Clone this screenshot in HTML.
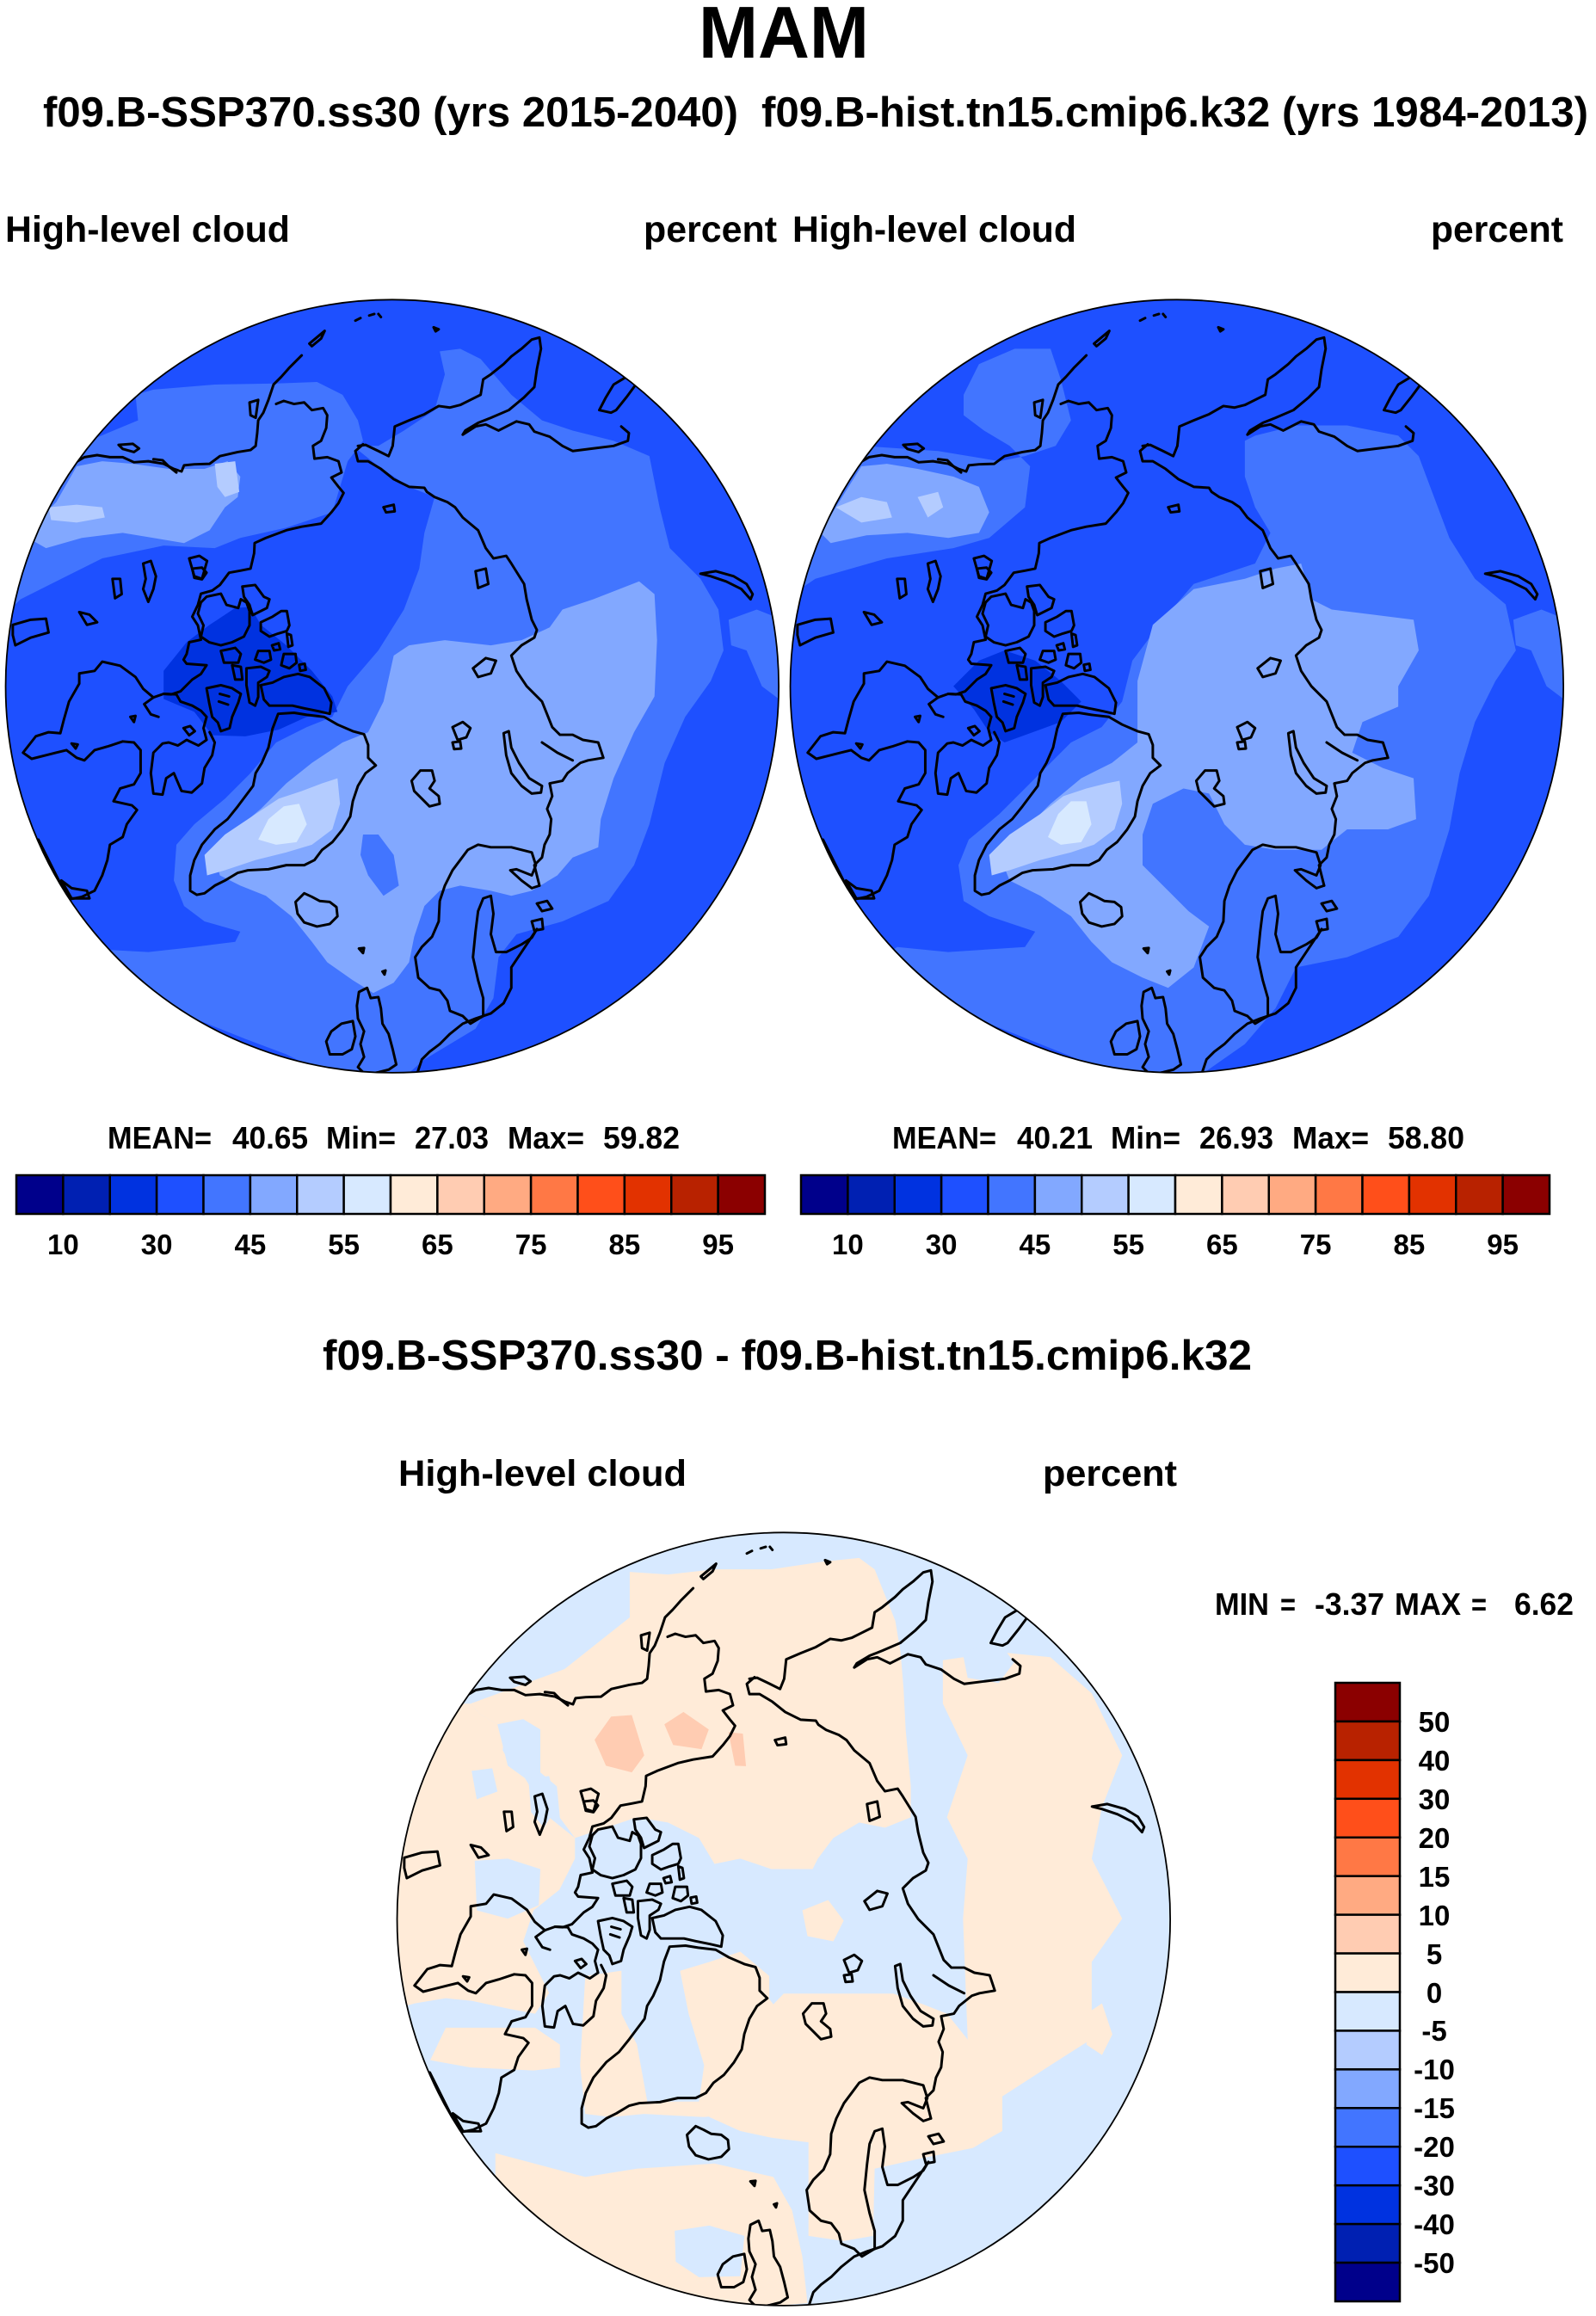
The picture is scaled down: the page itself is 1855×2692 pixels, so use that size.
<!DOCTYPE html>
<html><head><meta charset="utf-8"><style>
html,body{margin:0;padding:0;background:#fff;}
svg{display:block;}
text{font-family:"Liberation Sans",Arial,sans-serif;font-weight:bold;fill:#000;}
</style></head><body>
<svg width="1855" height="2692" viewBox="0 0 1855 2692" xmlns="http://www.w3.org/2000/svg">
<defs>
<clipPath id="cc"><circle cx="767" cy="770" r="756"/></clipPath>
<g id="coast" fill="none" stroke="#000" stroke-width="5" stroke-linejoin="round" stroke-linecap="round">
<path d="M148,332 L165,322 L190,318 L215,322 L240,322 L262,332 L290,330 L320,335 L340,345 L355,350 L360,338 L380,336 L410,335 L430,320 L465,312 L490,308 L500,300 L503,275 L505,250 L515,235 L525,210 L535,180 L550,165 L565,148 L590,123"/>
<path d="M232,298 L260,296 L272,305 L262,312 L240,306 Z M300,326 L318,328 L330,340 L345,352 M488,215 L505,210 L500,245 L490,240 Z M605,100 L635,75 L628,90 L610,105 Z M695,55 L705,50 M722,45 L732,42 M740,42 L745,48 M848,68 L858,72 L852,76 Z"/>
<path d="M540,218 L555,212 L575,218 L595,215 L610,230 L632,226 L640,240 L638,265 L628,290 L612,300 L615,325 L640,322 L662,330 L668,352 L648,362 L662,380 L672,392 L662,412 L648,430 L628,452 L590,458 L560,465 L520,480 L498,490 L497,510 L490,540 L470,544 L448,548 L430,572 L415,583 L393,589 L387,611 L376,634 L387,651 L393,679 L370,684 L365,707 L359,718 L365,726 L404,729 L393,746 L376,757 L353,780 L335,786 L320,785 L300,792 L282,805 L295,825 L310,830"/>
<path d="M300,792 L280,775 L265,752 L235,730 L200,722 L185,740 L155,745 L155,765 L135,800 L125,835 L118,862 L95,860 L70,868 L45,900 L62,912 L90,905 L110,900 L130,895 L150,910 L165,915 L185,895 L210,888 L240,878 L262,880 L275,895 L275,940 L262,962 L235,970 L222,995 L258,1003 L268,1012 L248,1040 L240,1065 L215,1080 L210,1110 L200,1140 L185,1170 L160,1182 L130,1188"/>
<path d="M75,1070 L100,1120 L120,1160 L140,1185 M120,1150 L140,1165 L170,1170 L175,1185 L140,1185 Z M140,882 L152,884 L148,892 Z M255,830 L265,828 L262,840 Z"/>
<path d="M320,785 L345,786 L353,800 L376,808 L393,818 L404,830 L398,852 L404,875 L388,886 L365,875 L348,886 L330,880 L318,882 L300,900 L295,940 L300,980 L318,982 L325,950 L340,940 L355,975 L375,978 L395,960 L400,930 L415,905 L420,880 L410,860 M359,852 L372,848 L381,858 L370,866 Z"/>
<path d="M376,540 L395,538 L404,548 L395,561 L380,558 Z"/>
<path d="M474,575 L499,572 L516,595 L527,600 L522,617 L494,631 L488,611 L477,595 Z"/>
<path d="M404,595 L432,589 L443,611 L466,617 L471,600 L482,606 L488,623 L488,651 L477,673 L454,684 L432,690 L409,684 L393,673 L398,651 L387,628 L393,606 Z"/>
<path d="M510,645 L533,634 L550,623 L561,623 L566,651 L561,662 L544,667 L527,673 L510,662 Z M505,701 L527,701 L530,718 L516,724 L499,718 Z M555,707 L578,707 L580,724 L566,735 L550,729 Z M561,667 L569,670 L572,690 L564,693 Z M432,701 L460,695 L471,707 L466,724 L438,724 Z M454,729 L471,732 L474,757 L460,757 Z M482,735 L510,732 L527,740 L522,752 L505,763 L505,791 L499,808 L488,802 L482,768 Z M510,768 L533,763 L555,752 L583,746 L606,752 L634,774 L648,802 L645,824 L623,819 L594,813 L572,808 L550,808 L527,808 L516,796 Z M404,774 L432,768 L454,774 L471,785 L466,802 L454,830 L449,852 L432,858 L426,841 L415,830 L409,802 Z M430,785 L448,790 M428,800 L446,806 M532,690 L545,686 L548,698 L536,700 Z M585,728 L596,726 L598,738 L587,740 Z"/>
<path d="M280,530 L295,525 L305,555 L300,580 L290,605 L280,580 L285,560 Z M220,560 L235,560 L238,590 L225,598 Z M370,520 L390,515 L405,525 L395,560 L380,555 Z M155,625 L175,630 L190,645 L170,650 Z M25,650 L60,640 L90,638 L95,665 L60,675 L30,690 L25,670 Z"/>
<path d="M372,1170 L372,1140 L380,1110 L395,1080 L420,1050 L445,1030 L465,1005 L480,985 L495,965 L500,940 L512,920 L525,890 L533,853 L544,824 L575,822 L600,826 L634,830 L660,845 L690,858 L712,864 L720,885 L720,910 L735,925 L715,940 L700,965 L690,995 L685,1025 L670,1050 L650,1075 L630,1090 L615,1110 L595,1120 L560,1120 L525,1128 L485,1130 L465,1135 L440,1150 L420,1160 L400,1175 L385,1178 Z"/>
<path d="M578,1192 L595,1175 L610,1182 L625,1190 L645,1192 L658,1202 L660,1220 L645,1235 L620,1240 L595,1232 L582,1215 Z"/>
<path d="M805,955 L822,935 L845,935 L850,955 L840,970 L858,985 L860,1000 L840,1005 L825,990 L810,975 Z M885,850 L905,840 L920,852 L912,870 L895,875 Z M885,880 L900,878 L902,892 L888,893 Z"/>
<path d="M985,862 L995,858 L1000,890 L1015,920 L1035,950 L1060,965 L1058,978 L1040,980 L1020,965 L1000,940 L990,905 Z"/>
<path d="M1055,1160 L1050,1140 L1045,1120 L1060,1105 L1065,1080 L1075,1060 L1078,1030 L1070,1010 L1080,985 L1075,960 L1100,955 L1110,940 L1135,920 L1150,915 L1180,910 L1170,880 L1140,875 L1120,865 L1095,865 L1080,850 L1060,800 L1030,770 L1010,740 L1000,710 L1020,690 L1045,675 L1050,660 L1040,640 L1030,600 L1025,570 L1000,530 L990,515 L965,520 L950,500 L935,465 L905,440 L890,420 L875,410 L850,400 L835,390 L830,382 L800,380 L770,365 L745,345 L720,330 L700,330 L695,310 L710,297"/>
<path d="M930,545 L950,540 L955,570 L935,578 Z M925,735 L950,715 L970,720 L960,745 L935,752 Z M1060,880 L1090,900 L1120,915"/>
<path d="M700,300 L715,298 L740,310 L760,320 L768,300 L772,262 L800,250 L830,238 L858,222 L880,225 L900,220 L920,210 L940,200 L945,170 L960,160 L985,140 L1000,125 L1020,110 L1040,92 L1055,88 L1058,110 L1050,150 L1045,185 L1025,205 L995,230 L960,245 L935,255 L910,270 L905,278 L930,262 L950,258 L975,270 L1010,252 L1035,258 L1045,272 L1075,282 L1100,300 L1120,310 L1160,305 L1200,300 L1228,290 L1230,275 L1215,262"/>
<path d="M1172,230 L1185,205 L1200,180 L1225,165 L1245,178 L1225,205 L1205,230 L1195,235 Z M750,420 L770,415 L772,428 L755,430 Z"/>
<path d="M1370,550 L1400,545 L1435,555 L1460,570 L1472,590 L1468,600 L1450,580 L1420,565 L1390,555 Z"/>
<path d="M1055,1160 L1040,1165 L1020,1150 L998,1130 L1010,1128 L1040,1140 L1048,1120 L1040,1095 L1000,1085 L960,1085 L935,1080 L915,1090 L900,1110 L885,1130 L870,1160 L860,1190 L858,1230 L845,1260 L825,1280 L812,1300 L818,1340 L840,1360 L860,1365 L875,1385 L880,1405 L905,1415 L920,1430 L945,1415 L945,1380 L935,1345 L925,1300 L930,1250 L935,1210 L945,1185 L960,1180 L965,1215 L960,1255 L970,1290 L990,1290 L1020,1275 L1040,1262 L1050,1245"/>
<path d="M1050,1245 L1020,1290 L1000,1320 L1000,1360 L985,1390 L960,1410 L930,1420 L905,1430 L880,1450 L860,1470 L840,1485 L825,1500 L815,1530 L795,1540 M1050,1195 L1070,1190 L1080,1205 L1060,1210 Z M1040,1230 L1060,1225 L1062,1245 L1045,1248 Z"/>
<path d="M702,1368 L718,1360 L725,1380 L740,1378 L745,1400 L748,1430 L760,1450 L768,1480 L775,1510 L760,1520 L740,1525 L715,1530 L700,1515 L712,1495 L705,1470 L712,1445 L700,1420 L698,1395 Z M648,1445 L668,1430 L690,1425 L695,1455 L688,1480 L670,1490 L645,1490 L638,1465 Z M702,1283 L712,1282 L710,1292 Z M748,1328 L754,1326 L752,1334 Z"/>
</g>
</defs>

<!-- Titles -->
<text x="911" y="67" font-size="85" text-anchor="middle" textLength="198" lengthAdjust="spacingAndGlyphs">MAM</text>
<text x="50" y="147" font-size="49" textLength="808" lengthAdjust="spacingAndGlyphs">f09.B-SSP370.ss30 (yrs 2015-2040)</text>
<text x="885" y="147" font-size="49" textLength="961" lengthAdjust="spacingAndGlyphs">f09.B-hist.tn15.cmip6.k32 (yrs 1984-2013)</text>
<text x="6" y="281" font-size="43" textLength="331" lengthAdjust="spacingAndGlyphs">High-level cloud</text>
<text x="748" y="281" font-size="43" textLength="155" lengthAdjust="spacingAndGlyphs">percent</text>
<text x="921" y="281" font-size="43" textLength="330" lengthAdjust="spacingAndGlyphs">High-level cloud</text>
<text x="1663" y="281" font-size="43" textLength="154" lengthAdjust="spacingAndGlyphs">percent</text>

<!-- Left map -->
<g transform="translate(0,340) scale(0.5943)">
<g clip-path="url(#cc)">
<circle cx="767" cy="770" r="760" fill="#1e50ff"/>
<path fill="#4275ff" d="M0,640 L40,600 L120,560 L200,520 L320,495 L420,500 L470,480 L560,460 L650,430 L680,330 L710,290 L700,250 L670,200 L620,175 L540,178 L420,180 L300,190 L265,200 L270,250 L150,300 L0,320 Z"/>
<path fill="#4275ff" d="M690,300 L740,300 L790,270 L850,230 L870,160 L860,115 L900,110 L940,130 L1000,200 L1060,250 L1120,270 L1200,290 L1270,320 L1290,420 L1310,500 L1370,560 L1405,620 L1415,700 L1390,760 L1340,830 L1300,920 L1270,1040 L1240,1120 L1190,1190 L1100,1230 L1010,1255 L975,1300 L965,1380 L930,1440 L880,1470 L830,1500 L790,1535 L750,1560 L700,1560 L640,1530 L560,1490 L480,1460 L380,1420 L300,1380 L230,1330 L170,1290 L200,1285 L290,1290 L380,1280 L460,1270 L470,1250 L400,1230 L360,1200 L340,1150 L345,1080 L380,1040 L440,990 L490,940 L540,880 L600,850 L650,830 L680,770 L740,700 L790,620 L820,540 L830,470 L850,400 L800,380 L740,340 Z"/>
<path fill="#4275ff" d="M1425,640 L1480,620 L1530,640 L1530,800 L1490,770 L1460,700 L1430,690 Z"/>
<path fill="#82a8ff" d="M55,480 L80,440 L110,410 L150,340 L200,330 L260,335 L330,345 L400,345 L445,330 L470,360 L465,400 L440,420 L410,465 L360,490 L300,480 L240,470 L160,480 L90,500 Z"/>
<path fill="#82a8ff" d="M770,710 L800,690 L870,680 L960,690 L1020,680 L1075,655 L1100,620 L1160,600 L1250,565 L1280,590 L1285,680 L1280,790 L1240,860 L1200,950 L1175,1030 L1170,1085 L1120,1105 L1090,1140 L1040,1170 L1000,1180 L960,1170 L900,1160 L860,1170 L830,1200 L810,1260 L800,1310 L770,1350 L730,1370 L690,1345 L640,1310 L610,1270 L570,1220 L520,1180 L470,1160 L430,1140 L420,1100 L450,1060 L510,1010 L560,960 L610,920 L670,880 L720,860 L750,800 Z"/>
<path fill="#4275ff" d="M710,1060 L740,1060 L770,1100 L780,1160 L750,1180 L720,1140 L705,1100 Z"/>
<path fill="#b4ccff" d="M400,1100 L440,1060 L500,1020 L545,990 L590,975 L630,960 L660,950 L665,1000 L650,1050 L610,1080 L560,1095 L500,1110 L440,1130 L405,1140 Z M95,420 L150,415 L200,420 L205,440 L150,450 L100,445 Z M420,335 L460,330 L468,390 L440,400 L425,380 Z"/>
<path fill="#d7e9ff" d="M505,1070 L525,1030 L555,1005 L585,1000 L600,1040 L580,1075 L540,1080 Z"/>
<path fill="#0032e0" d="M320,740 L365,684 L410,650 L460,617 L490,615 L510,650 L560,690 L610,740 L650,790 L660,820 L600,830 L545,855 L480,868 L415,866 L380,820 L320,795 Z"/>
<use href="#coast"/>
</g>
<circle cx="767" cy="770" r="756" fill="none" stroke="#000" stroke-width="3"/>
</g>

<!-- Right map -->
<g transform="translate(912,340) scale(0.5943)">
<g clip-path="url(#cc)">
<circle cx="767" cy="770" r="760" fill="#1e50ff"/>
<path fill="#4275ff" d="M0,600 L60,560 L200,520 L330,500 L400,480 L470,420 L480,340 L440,300 L390,270 L350,240 L350,200 L380,140 L450,110 L520,110 L540,170 L560,250 L530,300 L470,320 L420,330 L300,310 L150,300 L0,320 Z"/>
<path fill="#4275ff" d="M900,290 L920,280 L1000,260 L1100,260 L1200,280 L1240,320 L1270,400 L1300,480 L1350,560 L1410,610 L1430,700 L1390,760 L1350,840 L1320,940 L1300,1050 L1260,1180 L1200,1260 L1100,1300 L1000,1320 L960,1400 L900,1470 L800,1540 L700,1560 L600,1510 L500,1470 L400,1430 L300,1380 L220,1320 L190,1300 L220,1280 L320,1290 L470,1280 L490,1250 L400,1220 L350,1190 L340,1120 L360,1070 L420,1020 L500,940 L560,880 L620,850 L660,800 L680,720 L740,640 L800,570 L860,550 L920,530 L950,470 L920,420 L900,360 Z"/>
<path fill="#4275ff" d="M1425,640 L1480,620 L1530,640 L1530,800 L1490,770 L1460,700 L1430,690 Z"/>
<path fill="#82a8ff" d="M70,470 L100,420 L150,340 L200,335 L260,345 L330,360 L380,380 L400,430 L380,470 L320,480 L240,470 L160,475 L90,490 Z"/>
<path fill="#82a8ff" d="M690,760 L720,650 L800,580 L900,560 L960,540 L1010,530 L1030,600 L1070,620 L1150,630 L1230,640 L1240,700 L1200,770 L1200,810 L1130,840 L1110,900 L1170,930 L1230,950 L1235,1030 L1180,1050 L1100,1050 L1050,1090 L960,1090 L900,1080 L860,1040 L830,980 L780,970 L720,1000 L700,1060 L700,1120 L740,1160 L790,1210 L830,1240 L800,1320 L750,1360 L700,1340 L640,1310 L600,1270 L560,1220 L500,1180 L440,1150 L420,1100 L460,1060 L520,1000 L580,950 L640,920 L690,880 Z"/>
<path fill="#b4ccff" d="M400,1100 L440,1060 L500,1020 L545,985 L590,970 L630,960 L655,955 L660,1000 L645,1050 L605,1080 L560,1095 L500,1110 L440,1130 L405,1140 Z M100,420 L150,400 L200,410 L210,440 L150,450 Z M260,400 L300,390 L310,420 L280,440 Z"/>
<path fill="#d7e9ff" d="M515,1065 L535,1020 L560,995 L590,995 L600,1040 L580,1075 L540,1080 Z"/>
<path fill="#0032e0" d="M330,770 L380,720 L430,700 L490,720 L540,760 L580,800 L540,840 L480,862 L430,880 L400,860 L370,815 Z"/>
<use href="#coast"/>
</g>
<circle cx="767" cy="770" r="756" fill="none" stroke="#000" stroke-width="3"/>
</g>

<!-- Mean texts -->
<g font-size="36">
<text x="125" y="1335" textLength="121" lengthAdjust="spacingAndGlyphs">MEAN=</text>
<text x="270" y="1335" textLength="88" lengthAdjust="spacingAndGlyphs">40.65</text>
<text x="379" y="1335" textLength="81" lengthAdjust="spacingAndGlyphs">Min=</text>
<text x="482" y="1335" textLength="86" lengthAdjust="spacingAndGlyphs">27.03</text>
<text x="590" y="1335" textLength="89" lengthAdjust="spacingAndGlyphs">Max=</text>
<text x="701" y="1335" textLength="89" lengthAdjust="spacingAndGlyphs">59.82</text>
<text x="1037" y="1335" textLength="121" lengthAdjust="spacingAndGlyphs">MEAN=</text>
<text x="1182" y="1335" textLength="88" lengthAdjust="spacingAndGlyphs">40.21</text>
<text x="1291" y="1335" textLength="81" lengthAdjust="spacingAndGlyphs">Min=</text>
<text x="1394" y="1335" textLength="86" lengthAdjust="spacingAndGlyphs">26.93</text>
<text x="1502" y="1335" textLength="89" lengthAdjust="spacingAndGlyphs">Max=</text>
<text x="1613" y="1335" textLength="89" lengthAdjust="spacingAndGlyphs">58.80</text>
</g>

<!-- Horizontal colorbars -->
<g id="hbar" stroke="#000" stroke-width="2.5">
<rect x="19" y="1366" width="54.375" height="45" fill="#00008b"/>
<rect x="73.375" y="1366" width="54.375" height="45" fill="#0020b2"/>
<rect x="127.75" y="1366" width="54.375" height="45" fill="#0032e0"/>
<rect x="182.125" y="1366" width="54.375" height="45" fill="#1e50ff"/>
<rect x="236.5" y="1366" width="54.375" height="45" fill="#4275ff"/>
<rect x="290.875" y="1366" width="54.375" height="45" fill="#82a8ff"/>
<rect x="345.25" y="1366" width="54.375" height="45" fill="#b4ccff"/>
<rect x="399.625" y="1366" width="54.375" height="45" fill="#d7e9ff"/>
<rect x="454" y="1366" width="54.375" height="45" fill="#ffebd8"/>
<rect x="508.375" y="1366" width="54.375" height="45" fill="#ffccb2"/>
<rect x="562.75" y="1366" width="54.375" height="45" fill="#ffaa82"/>
<rect x="617.125" y="1366" width="54.375" height="45" fill="#ff7845"/>
<rect x="671.5" y="1366" width="54.375" height="45" fill="#ff4f1a"/>
<rect x="725.875" y="1366" width="54.375" height="45" fill="#e23200"/>
<rect x="780.25" y="1366" width="54.375" height="45" fill="#b82200"/>
<rect x="834.625" y="1366" width="54.375" height="45" fill="#8b0000"/>
</g>
<use href="#hbar" transform="translate(912,0)"/>
<g font-size="33" text-anchor="middle">
<text x="73.4" y="1458">10</text>
<text x="182.1" y="1458">30</text>
<text x="290.9" y="1458">45</text>
<text x="399.6" y="1458">55</text>
<text x="508.4" y="1458">65</text>
<text x="617.1" y="1458">75</text>
<text x="725.9" y="1458">85</text>
<text x="834.6" y="1458">95</text>
<text x="985.4" y="1458">10</text>
<text x="1094.1" y="1458">30</text>
<text x="1202.9" y="1458">45</text>
<text x="1311.6" y="1458">55</text>
<text x="1420.4" y="1458">65</text>
<text x="1529.1" y="1458">75</text>
<text x="1637.9" y="1458">85</text>
<text x="1746.6" y="1458">95</text>
</g>

<!-- Difference title -->
<text x="375" y="1592" font-size="49" textLength="1080" lengthAdjust="spacingAndGlyphs">f09.B-SSP370.ss30 - f09.B-hist.tn15.cmip6.k32</text>
<text x="463" y="1727" font-size="43" textLength="335" lengthAdjust="spacingAndGlyphs">High-level cloud</text>
<text x="1212" y="1727" font-size="43" textLength="156" lengthAdjust="spacingAndGlyphs">percent</text>

<!-- Bottom map -->
<g transform="translate(455,1773) scale(0.5943)">
<g clip-path="url(#cc)">
<circle cx="767" cy="770" r="760" fill="#d7e9ff"/>
<g transform="translate(-25.2,-55.5) scale(1.0106)" fill="#ffebd8">
<path d="M486,145 L560,150 L650,140 L760,140 L860,125 L930,118 L960,140 L980,190 L1000,240 L1010,300 L1016,372 L1020,450 L1030,560 L1030,620 L980,640 L930,630 L880,660 L850,700 L840,720 L760,720 L700,700 L650,710 L620,660 L560,630 L500,620 L440,640 L380,660 L351,621 L345,560 L313,533 L313,450 L280,430 L230,440 L196,420 L178,400 L360,333 L486,233 Z"/>
<path d="M0,400 L178,400 L196,420 L230,440 L250,520 L283,544 L330,620 L380,660 L380,700 L350,760 L300,800 L280,860 L300,900 L330,960 L303,1000 L250,990 L180,975 L130,970 L70,980 L0,1000 Z"/>
<path d="M130,1027 L303,1027 L351,1060 L351,1104 L300,1110 L178,1104 L100,1090 Z"/>
<path d="M400,927 L476,916 L573,920 L640,900 L700,880 L756,927 L756,1050 L740,1150 L700,1194 L629,1200 L514,1194 L450,1200 L400,1194 L390,1100 Z"/>
<path d="M611,927 L700,900 L764,982 L784,961 L996,961 L1054,982 L1100,1000 L1140,1050 L1207,1100 L1207,1227 L1189,1237 L1150,1260 L1050,1280 L960,1300 L957,1430 L900,1440 L832,1430 L832,1249 L760,1240 L700,1227 L640,1200 L611,1100 Z"/>
<path d="M226,1270 L400,1316 L500,1300 L650,1290 L764,1316 L800,1380 L820,1470 L830,1560 L600,1580 L400,1560 L250,1450 L226,1370 Z"/>
<path d="M1092,316 L1200,300 L1300,310 L1380,380 L1439,500 L1400,600 L1380,700 L1439,816 L1380,900 L1380,1049 L1300,1100 L1207,1160 L1140,1049 L1131,816 L1140,700 L1100,620 L1140,500 L1092,400 Z"/>
<path d="M1370,1000 L1400,980 L1420,1040 L1400,1080 L1370,1060 Z M820,800 L870,780 L900,820 L880,860 L830,850 Z"/>
<g fill="#d7e9ff">
<path d="M245,450 L290,440 L310,480 L300,530 L260,525 L240,490 Z M180,530 L220,525 L230,570 L190,585 Z M290,545 L330,540 L345,600 L320,640 L295,610 Z M186,704 L250,700 L313,720 L310,790 L250,816 L190,800 Z"/>
<path d="M470,905 L580,900 L600,1000 L630,1100 L620,1170 L520,1170 L500,1060 L470,1000 Z"/>
<path d="M573,1420 L640,1410 L708,1430 L700,1508 L620,1510 L575,1480 Z"/>
<path d="M1130,300 L1200,280 L1230,320 L1200,360 L1140,350 Z"/>
</g>
<g fill="#ffccb2">
<path d="M418,470 L450,425 L490,422 L514,500 L490,533 L440,520 Z M553,440 L590,416 L639,450 L625,488 L570,480 Z M677,455 L705,458 L711,521 L690,520 Z"/>
</g>
</g>
<use href="#coast"/>
</g>
<circle cx="767" cy="770" r="756" fill="none" stroke="#000" stroke-width="3"/>
</g>

<!-- MIN/MAX -->
<g font-size="36">
<text x="1412" y="1877" textLength="63" lengthAdjust="spacingAndGlyphs">MIN</text>
<text x="1488" y="1877" textLength="18" lengthAdjust="spacingAndGlyphs">=</text>
<text x="1528" y="1877" textLength="81" lengthAdjust="spacingAndGlyphs">-3.37</text>
<text x="1621" y="1877" textLength="77" lengthAdjust="spacingAndGlyphs">MAX</text>
<text x="1710" y="1877" textLength="18" lengthAdjust="spacingAndGlyphs">=</text>
<text x="1760" y="1877" textLength="69" lengthAdjust="spacingAndGlyphs">6.62</text>
</g>

<!-- Vertical colorbar -->
<g stroke="#000" stroke-width="2.5">
<rect x="1552" y="1956" width="75" height="44.94" fill="#8b0000"/>
<rect x="1552" y="2000.94" width="75" height="44.94" fill="#b82200"/>
<rect x="1552" y="2045.88" width="75" height="44.94" fill="#e23200"/>
<rect x="1552" y="2090.81" width="75" height="44.94" fill="#ff4f1a"/>
<rect x="1552" y="2135.75" width="75" height="44.94" fill="#ff7845"/>
<rect x="1552" y="2180.69" width="75" height="44.94" fill="#ffaa82"/>
<rect x="1552" y="2225.63" width="75" height="44.94" fill="#ffccb2"/>
<rect x="1552" y="2270.56" width="75" height="44.94" fill="#ffebd8"/>
<rect x="1552" y="2315.5" width="75" height="44.94" fill="#d7e9ff"/>
<rect x="1552" y="2360.44" width="75" height="44.94" fill="#b4ccff"/>
<rect x="1552" y="2405.38" width="75" height="44.94" fill="#82a8ff"/>
<rect x="1552" y="2450.31" width="75" height="44.94" fill="#4275ff"/>
<rect x="1552" y="2495.25" width="75" height="44.94" fill="#1e50ff"/>
<rect x="1552" y="2540.19" width="75" height="44.94" fill="#0032e0"/>
<rect x="1552" y="2585.13" width="75" height="44.94" fill="#0020b2"/>
<rect x="1552" y="2630.06" width="75" height="44.94" fill="#00008b"/>
</g>
<g font-size="33" text-anchor="middle">
<text x="1667" y="2013">50</text>
<text x="1667" y="2058">40</text>
<text x="1667" y="2103">30</text>
<text x="1667" y="2148">20</text>
<text x="1667" y="2193">15</text>
<text x="1667" y="2238">10</text>
<text x="1667" y="2283">5</text>
<text x="1667" y="2328">0</text>
<text x="1667" y="2372">-5</text>
<text x="1667" y="2417">-10</text>
<text x="1667" y="2462">-15</text>
<text x="1667" y="2507">-20</text>
<text x="1667" y="2552">-30</text>
<text x="1667" y="2597">-40</text>
<text x="1667" y="2642">-50</text>
</g>
</svg>
</body></html>
